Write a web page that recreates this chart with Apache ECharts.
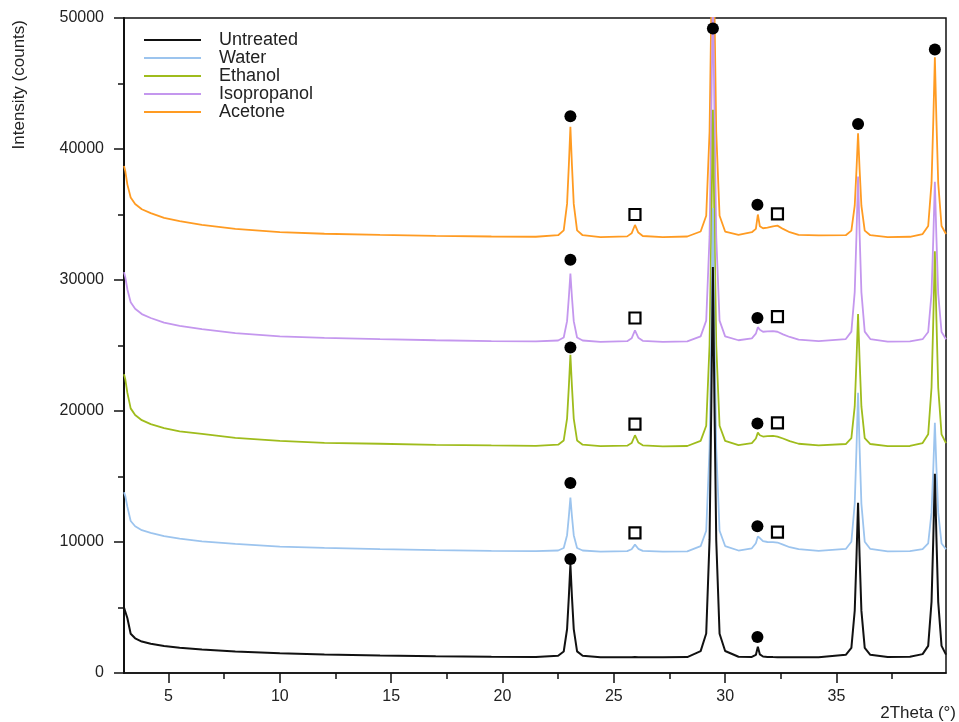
<!DOCTYPE html>
<html>
<head>
<meta charset="utf-8">
<script src="https://cdn.jsdelivr.net/npm/echarts@6/dist/echarts.min.js"></script>
<style>
  html, body { margin: 0; padding: 0; background: #fff; }
  #chart { width: 959px; height: 722px; }
</style>
</head>
<body>
<div id="chart"></div>
<script>
// 2θ positions (shared by all patterns)
const twoTheta = [
  3.0, 3.06, 3.15, 3.3, 3.5, 3.8, 4.2, 4.8, 5.5, 6.5, 8.0, 10.0, 12.0, 14.5, 17.0, 19.5, 21.5,
  22.5, 22.75, 22.9, 22.98, 23.05, 23.12, 23.2, 23.35, 23.6,
  24.4, 25.6, 25.8, 25.95, 26.1, 26.3, 27.2, 28.3,
  28.9, 29.15, 29.3, 29.38, 29.45, 29.52, 29.6, 29.75, 30.0,
  30.6, 31.2, 31.38, 31.47, 31.56, 31.7, 31.9, 32.15, 32.35, 32.6, 32.9, 33.3, 34.2,
  35.42, 35.67, 35.82, 35.9, 35.97, 36.04, 36.12, 36.27, 36.52,
  37.3, 38.3, 38.87, 39.12, 39.27, 39.35, 39.42, 39.49, 39.57, 39.72, 39.92
];

const untreated = [
  5000, 4850, 4200, 3000, 2650, 2400, 2230, 2060, 1930, 1800, 1650, 1500, 1420, 1340, 1280, 1240, 1220,
  1320, 1640, 3340, 5820, 8300, 5800, 3350, 1650, 1310,
  1210, 1200, 1210, 1220, 1205, 1200, 1195, 1215,
  1670, 3010, 10160, 20590, 31000, 20600, 10150, 3000, 1680,
  1240, 1225, 1380, 2000, 1420, 1260, 1225, 1215, 1210, 1205, 1200, 1200, 1210,
  1390, 1920, 4750, 8880, 13000, 8880, 4760, 1920, 1390,
  1215, 1240, 1440, 2070, 5430, 10330, 15200, 10330, 5430, 2070, 1400
];
const water = [
  13800, 13500, 12700, 11600, 11200, 10900, 10700, 10450, 10250, 10050, 9850, 9650, 9550, 9450, 9380, 9330, 9300,
  9350, 9540, 10520, 11960, 13400, 11960, 10520, 9540, 9350,
  9270, 9300, 9450, 9800, 9480, 9320, 9260, 9280,
  9680, 10860, 17150, 26320, 35500, 26320, 17150, 10860, 9690,
  9350, 9520, 9900, 10420, 10300, 10060, 10000, 9990, 9960, 9800, 9600, 9450, 9320,
  9470, 10020, 12920, 17160, 21400, 17160, 12920, 10020, 9470,
  9280, 9300, 9450, 9890, 12240, 15670, 19100, 15670, 12240, 9890, 9450
];
const ethanol = [
  22800, 22400, 21400, 20200, 19700, 19300, 19000, 18700, 18450, 18250, 17950, 17720, 17560, 17500, 17420, 17370, 17340,
  17430, 17750, 19420, 21860, 24300, 21860, 19420, 17750, 17430,
  17320, 17350, 17550, 18150, 17600, 17380, 17300, 17330,
  17720, 18870, 25040, 34040, 43000, 34040, 25040, 18870, 17720,
  17400, 17550, 17900, 18350, 18150, 18050, 18080, 18100, 18050, 17900, 17700, 17500, 17380,
  17480, 17930, 20350, 23880, 27400, 23880, 20350, 17930, 17480,
  17320, 17330, 17550, 18220, 21790, 27000, 32200, 27000, 21790, 18220, 17550
];
const isopropanol = [
  30600, 30200, 29300, 28300, 27800, 27400, 27100, 26750, 26500, 26250, 25950, 25700, 25580, 25480, 25400, 25340, 25310,
  25380, 25610, 26860, 28680, 30500, 28680, 26860, 25610, 25380,
  25280, 25330, 25550, 26150, 25600, 25360, 25280, 25310,
  25700, 26900, 33310, 42660, 52000, 42660, 33310, 26900, 25700,
  25400, 25550, 25900, 26400, 26200, 26050, 26080, 26100, 26050, 25850, 25650, 25450, 25330,
  25490, 26060, 29080, 33490, 37900, 33490, 29080, 26060, 25490,
  25300, 25320, 25480, 26030, 28960, 33230, 37500, 33230, 28960, 26030, 25480
];
const acetone = [
  38700, 38300, 37300, 36300, 35800, 35400, 35100, 34750, 34500, 34200, 33900, 33650, 33530, 33440, 33370, 33320, 33300,
  33420, 33790, 35810, 38760, 41700, 38760, 35810, 33790, 33420,
  33280, 33330, 33560, 34200, 33620, 33360, 33280, 33320,
  33700, 34900, 41310, 50660, 60000, 50660, 41310, 34900, 33700,
  33450, 33650, 33900, 35000, 34100, 33950, 34000, 34100, 34150, 33900, 33650, 33450, 33400,
  33420, 33770, 35670, 38440, 41200, 38440, 35670, 33770, 33420,
  33280, 33300, 33510, 34120, 37410, 42200, 47000, 42200, 37410, 34120, 33510
];

// peak markers: filled circles and open squares
const circleMarks = [
  [23.05, 42500], [29.45, 49200], [31.45, 35750], [35.97, 41900], [39.42, 47600],
  [23.05, 31550], [31.45, 27100],
  [23.05, 24850], [31.45, 19050],
  [23.05, 14500], [31.45, 11200],
  [23.05, 8700], [31.45, 2750]
];
const squareMarks = [
  [25.95, 35000], [32.35, 35050],
  [25.95, 27100], [32.35, 27200],
  [25.95, 19000], [32.35, 19100],
  [25.95, 10700], [32.35, 10750]
];

const xMajor = [5, 10, 15, 20, 25, 30, 35];
const xMinor = [7.5, 12.5, 17.5, 22.5, 27.5, 32.5, 37.5];

const names = ['Untreated', 'Water', 'Ethanol', 'Isopropanol', 'Acetone'];
const colors = {
  Untreated: '#111111',
  Water: '#9cc4ee',
  Ethanol: '#9fbc1c',
  Isopropanol: '#c497ee',
  Acetone: '#ff9b22'
};
const widths = { Untreated: 2, Water: 1.8, Ethanol: 1.8, Isopropanol: 1.8, Acetone: 1.8 };
const values = {
  Untreated: untreated,
  Water: water,
  Ethanol: ethanol,
  Isopropanol: isopropanol,
  Acetone: acetone
};

const font = 'Liberation Sans, Arial, sans-serif';
const ink = '#111';

// top pattern first, untreated drawn last (on top)
const drawOrder = ['Acetone', 'Isopropanol', 'Ethanol', 'Water', 'Untreated'];
const lineSeries = drawOrder.map(name => ({
  name: name,
  type: 'line',
  symbol: 'none',
  smooth: false,
  data: twoTheta.map((x, i) => [x, values[name][i]]),
  lineStyle: { color: colors[name], width: widths[name] },
  itemStyle: { color: colors[name] }
}));

const option = {
  animation: false,
  backgroundColor: '#fff',
  textStyle: { fontFamily: font, color: '#222' },
  grid: {
    left: 124, right: 11, top: 18, bottom: 48,
    show: true, borderColor: ink, borderWidth: 1.5
  },
  legend: {
    data: names,
    orient: 'vertical',
    left: 143,
    top: 31,
    padding: 0,
    itemWidth: 57,
    itemHeight: 10,
    itemGap: 0,
    itemStyle: { opacity: 0 },
    textStyle: { fontSize: 18, lineHeight: 17.5, color: '#222', padding: [0, 0, 0, 13] }
  },
  xAxis: [
    {
      type: 'value',
      min: 3,
      max: 39.92,
      name: '2Theta (°)',
      nameLocation: 'end',
      nameGap: 10,
      nameTextStyle: { fontSize: 17, color: '#222', align: 'right', verticalAlign: 'top', padding: [32, 0, 0, 0] },
      axisLine: { show: true, onZero: false, lineStyle: { color: ink, width: 1.5 } },
      axisTick: { show: true, length: 10, customValues: xMajor, lineStyle: { color: ink, width: 1.5 } },
      axisLabel: { customValues: xMajor, margin: 16, fontSize: 16, color: '#222' },
      splitLine: { show: false }
    },
    {
      type: 'value',
      min: 3,
      max: 39.92,
      position: 'bottom',
      axisLine: { show: false },
      axisTick: { show: true, length: 6, customValues: xMinor, lineStyle: { color: ink, width: 1.5 } },
      axisLabel: { show: false },
      splitLine: { show: false }
    }
  ],
  yAxis: {
    type: 'value',
    min: 0,
    max: 50000,
    interval: 10000,
    name: 'Intensity (counts)',
    nameLocation: 'end',
    nameRotate: 90,
    nameGap: -2,
    nameTextStyle: { fontSize: 17, color: '#222', align: 'right', verticalAlign: 'bottom', padding: [0, 0, 96, 0] },
    axisLine: { show: true, lineStyle: { color: ink, width: 2 } },
    axisTick: { show: true, length: 10, lineStyle: { color: ink, width: 1.5 } },
    minorTick: { show: true, splitNumber: 2, length: 6, lineStyle: { color: ink, width: 1.5 } },
    axisLabel: { margin: 20, fontSize: 16, color: '#222', formatter: v => String(v) },
    splitLine: { show: false },
    minorSplitLine: { show: false }
  },
  series: lineSeries.concat([
    {
      name: 'calcite',
      type: 'scatter',
      symbol: 'circle',
      symbolSize: 12,
      data: circleMarks,
      itemStyle: { color: '#000', opacity: 1 },
      z: 5
    },
    {
      name: 'other',
      type: 'scatter',
      symbol: 'rect',
      symbolSize: 11,
      data: squareMarks,
      itemStyle: { color: '#fff', borderColor: '#000', borderWidth: 2.2, opacity: 1 },
      z: 5
    }
  ])
};

const chart = echarts.init(document.getElementById('chart'));
chart.setOption(option);
</script>
</body>
</html>
